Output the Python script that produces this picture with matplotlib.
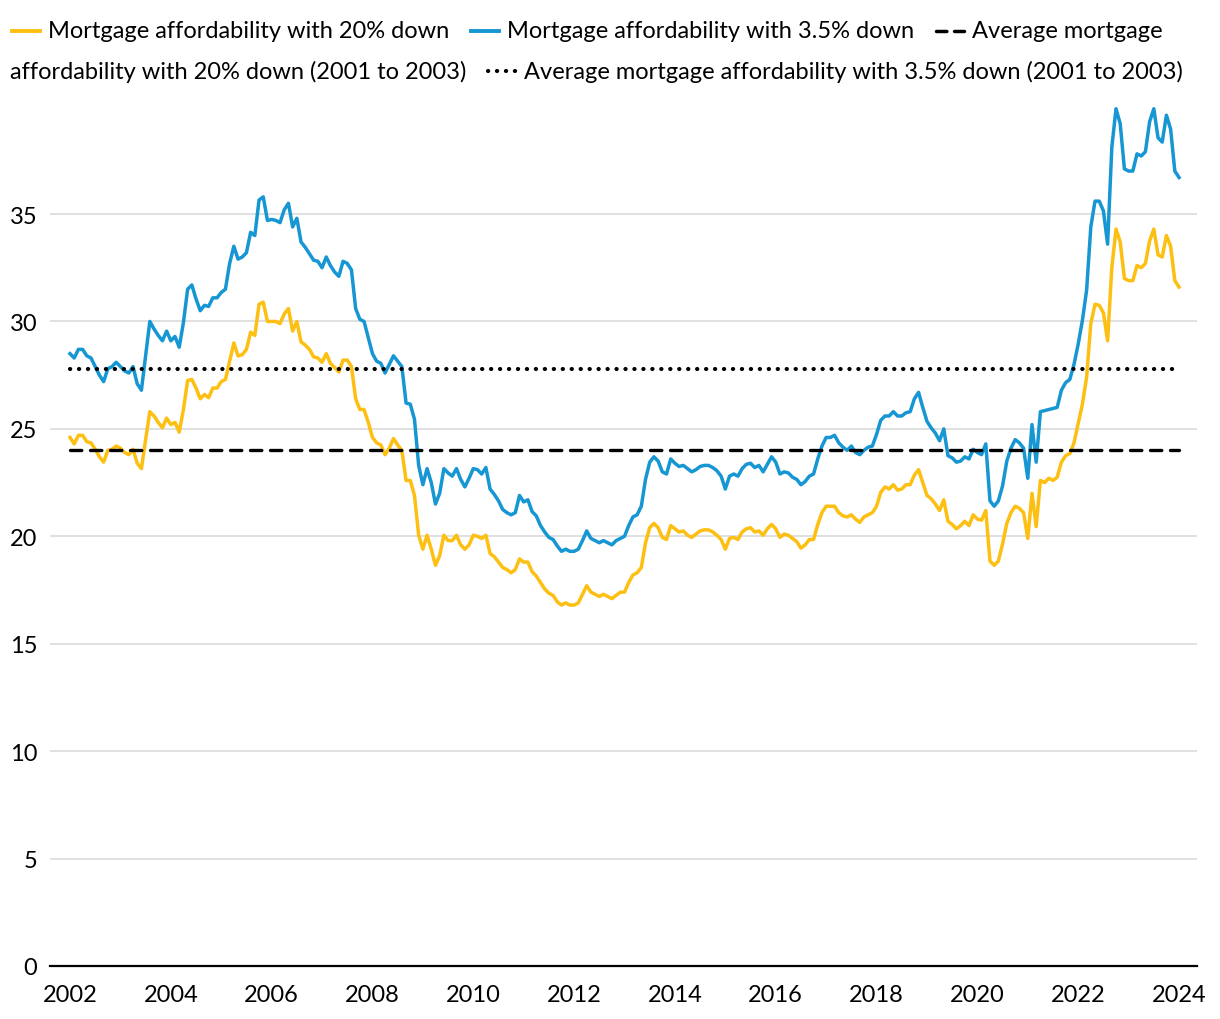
import numpy as np
import pandas as pd
import matplotlib
matplotlib.use("Agg")
import matplotlib.pyplot as plt
from matplotlib.lines import Line2D

plt.rcParams['font.family'] = ['Lato', 'DejaVu Sans']

# monthly values, Jan 2002 .. Jan 2024 (one row per year)
down_20 = [
    24.6, 24.3, 24.7, 24.7, 24.4, 24.35, 24.05, 23.7, 23.45, 24.0, 24.05, 24.2,
    24.1, 23.9, 23.8, 24.05, 23.4, 23.15, 24.5, 25.8, 25.6, 25.3, 25.05, 25.5,
    25.2, 25.3, 24.85, 25.9, 27.25, 27.3, 26.9, 26.4, 26.6, 26.45, 26.9, 26.9,
    27.2, 27.3, 28.15, 29.0, 28.4, 28.45, 28.7, 29.5, 29.35, 30.8, 30.9, 30.0,
    30.0, 30.0, 29.9, 30.35, 30.6, 29.55, 30.0, 29.05, 28.9, 28.7, 28.35, 28.3,
    28.1, 28.5, 28.05, 27.85, 27.65, 28.2, 28.2, 27.9, 26.4, 25.9, 25.9, 25.3,
    24.6, 24.35, 24.25, 23.8, 24.1, 24.55, 24.25, 24.0, 22.6, 22.6, 21.9, 20.05,
    19.4, 20.05, 19.4, 18.65, 19.1, 20.05, 19.8, 19.8, 20.05, 19.6, 19.4, 19.6,
    20.05, 20.0, 19.9, 20.05, 19.2, 19.05, 18.8, 18.55, 18.45, 18.3, 18.45, 18.95,
    18.8, 18.8, 18.35, 18.15, 17.85, 17.55, 17.35, 17.25, 16.95, 16.8, 16.9, 16.8,
    16.8, 16.9, 17.3, 17.7, 17.4, 17.3, 17.2, 17.3, 17.2, 17.1, 17.25, 17.4,
    17.4, 17.85, 18.2, 18.3, 18.55, 19.7, 20.4, 20.6, 20.4, 19.95, 19.85, 20.5,
    20.35, 20.2, 20.25, 20.05, 19.95, 20.1, 20.25, 20.3, 20.3, 20.2, 20.05, 19.85,
    19.4, 19.9, 19.95, 19.85, 20.2, 20.35, 20.4, 20.2, 20.25, 20.05, 20.35, 20.55,
    20.35, 19.95, 20.1, 20.05, 19.9, 19.75, 19.45, 19.6, 19.85, 19.85, 20.55, 21.1,
    21.4, 21.4, 21.4, 21.1, 20.95, 20.9, 21.0, 20.8, 20.65, 20.9, 21.0, 21.1,
    21.4, 22.05, 22.3, 22.2, 22.4, 22.15, 22.2, 22.4, 22.4, 22.85, 23.1, 22.5,
    21.9, 21.75, 21.5, 21.2, 21.7, 20.7, 20.55, 20.35, 20.5, 20.7, 20.5, 21.0,
    20.8, 20.75, 21.2, 18.85, 18.65, 18.85, 19.65, 20.6, 21.1, 21.4, 21.3, 21.1,
    19.9, 22.0, 20.45, 22.6, 22.5, 22.7, 22.6, 22.75, 23.45, 23.75, 23.85, 24.35,
    25.25, 26.15, 27.4, 29.9, 30.8, 30.75, 30.4, 29.1, 32.5, 34.3, 33.7, 32.0,
    31.9, 31.9, 32.6, 32.5, 32.7, 33.75, 34.3, 33.1, 33.0, 34.0, 33.5, 31.9,
    31.6,
]

down_35 = [
    28.5, 28.3, 28.7, 28.7, 28.4, 28.3, 27.9, 27.5, 27.2, 27.8, 27.9, 28.1,
    27.9, 27.7, 27.6, 27.9, 27.1, 26.8, 28.4, 30.0, 29.65, 29.35, 29.1, 29.55,
    29.1, 29.3, 28.8, 29.95, 31.5, 31.7, 31.05, 30.5, 30.75, 30.7, 31.1, 31.1,
    31.35, 31.5, 32.7, 33.5, 32.9, 33.0, 33.2, 34.15, 34.0, 35.65, 35.8, 34.7,
    34.75, 34.7, 34.6, 35.2, 35.5, 34.4, 34.8, 33.7, 33.45, 33.15, 32.85, 32.8,
    32.5, 33.0, 32.6, 32.3, 32.1, 32.8, 32.7, 32.4, 30.6, 30.1, 30.0, 29.25,
    28.5, 28.15, 28.05, 27.6, 28.0, 28.4, 28.15, 27.9, 26.2, 26.15, 25.45, 23.3,
    22.4, 23.15, 22.5, 21.5, 22.0, 23.15, 22.95, 22.8, 23.15, 22.65, 22.3, 22.7,
    23.15, 23.1, 22.9, 23.2, 22.2, 21.95, 21.65, 21.25, 21.1, 21.0, 21.1, 21.9,
    21.6, 21.7, 21.15, 20.95, 20.5, 20.2, 19.95, 19.85, 19.55, 19.3, 19.4, 19.3,
    19.3, 19.4, 19.8, 20.25, 19.9, 19.8, 19.7, 19.8, 19.7, 19.6, 19.8, 19.9,
    20.0, 20.5, 20.9, 21.0, 21.4, 22.65, 23.45, 23.7, 23.5, 23.0, 22.9, 23.6,
    23.4, 23.25, 23.3, 23.15, 23.0, 23.1, 23.25, 23.3, 23.3, 23.2, 23.05, 22.8,
    22.2, 22.8, 22.9, 22.8, 23.15, 23.35, 23.4, 23.2, 23.3, 23.0, 23.35, 23.7,
    23.45, 22.9, 23.0, 22.95, 22.75, 22.65, 22.4, 22.55, 22.8, 22.9, 23.6, 24.2,
    24.6, 24.6, 24.7, 24.35, 24.15, 24.0, 24.2, 23.9, 23.8, 24.0, 24.15, 24.2,
    24.75, 25.4, 25.6, 25.6, 25.8, 25.6, 25.6, 25.75, 25.8, 26.4, 26.7, 26.0,
    25.35, 25.05, 24.8, 24.45, 25.0, 23.75, 23.65, 23.45, 23.5, 23.7, 23.6, 24.05,
    23.9, 23.8, 24.3, 21.65, 21.4, 21.65, 22.35, 23.5, 24.1, 24.5, 24.35, 24.1,
    22.7, 25.2, 23.45, 25.8, 25.85, 25.9, 25.95, 26.0, 26.8, 27.15, 27.3, 28.0,
    28.95, 30.05, 31.45, 34.4, 35.6, 35.6, 35.15, 33.6, 38.1, 39.9, 39.2, 37.1,
    37.0, 37.0, 37.8, 37.7, 37.9, 39.3, 39.9, 38.55, 38.35, 39.6, 38.95, 37.0,
    36.7,
]

avg_20 = 24.0
avg_35 = 27.8

months = pd.date_range("2002-01-01", periods=len(down_20), freq="MS")
x = months.year + (months.month - 1) / 12.0

YELLOW = "#fdbf11"
BLUE = "#1696d2"

W, H = 1220, 1020
fig = plt.figure(figsize=(W / 100, H / 100), dpi=100)
ax = fig.add_axes([50 / W, 1 - 967 / H, 1147 / W, (967 - 107.6) / H])

ax.plot(x, down_20, color=YELLOW, lw=2.5, solid_joinstyle="round", zorder=3)
ax.plot(x, down_35, color=BLUE, lw=2.5, solid_joinstyle="round", zorder=3)
ax.plot([x[0], x[-1]], [avg_20, avg_20], color="black", lw=2.4,
        dashes=(3.4, 2.6), dash_capstyle="round", zorder=4)
ax.plot([x[0], x[-1]], [avg_35, avg_35], color="black", lw=3.0,
        dashes=(0.05, 2.1), dash_capstyle="round", zorder=4)

ax.set_xlim(2002 - 20 / 50.41, 2002 + 1127 / 50.41)
ax.set_ylim(0, 40)
ax.set_yticks(range(0, 40, 5))
ax.set_xticks(range(2002, 2025, 2))
ax.grid(axis="y", color="#dedddd", lw=1.3)
ax.set_axisbelow(True)
for s in ["top", "right", "left"]:
    ax.spines[s].set_visible(False)
ax.spines["bottom"].set_color("black")
ax.spines["bottom"].set_linewidth(1.6)
ax.spines["bottom"].set_zorder(5)
ax.tick_params(axis="both", length=0, labelsize=17, colors="black")
ax.tick_params(axis="y", pad=9)
ax.tick_params(axis="x", pad=13)

# wrapped legend on top, laid out like the html one
renderer = fig.canvas.get_renderer()
FS = 17


def fx(px):
    return px / W


def fy(py):
    return 1 - py / H


def put_item(px, py, style, label):
    kw = dict(color="black", lw=2.5)
    if style == "yellow":
        kw = dict(color=YELLOW, lw=2.8)
    elif style == "blue":
        kw = dict(color=BLUE, lw=2.8)
    elif style == "dash":
        kw.update(dashes=(3.0, 2.2), dash_capstyle="round")
    elif style == "dot":
        kw.update(lw=3.0, dashes=(0.05, 2.1), dash_capstyle="round")
    if style is not None:
        ln = Line2D([fx(px + 2), fx(px + 30)], [fy(py), fy(py)],
                    transform=fig.transFigure, **kw)
        fig.add_artist(ln)
        px += 38
    t = fig.text(fx(px), fy(py), label, fontsize=FS, va="center", ha="left")
    bb = t.get_window_extent(renderer)
    return bb.x1


end = put_item(10, 32, "yellow", "Mortgage affordability with 20% down")
end = put_item(end + 20, 32, "blue", "Mortgage affordability with 3.5% down")
end = put_item(end + 20, 32, "dash", "Average mortgage")
end = put_item(10, 72, None, "affordability with 20% down (2001 to 2003)")
end = put_item(end + 20, 72, "dot",
               "Average mortgage affordability with 3.5% down (2001 to 2003)")

fig.savefig("out.png", dpi=100)
